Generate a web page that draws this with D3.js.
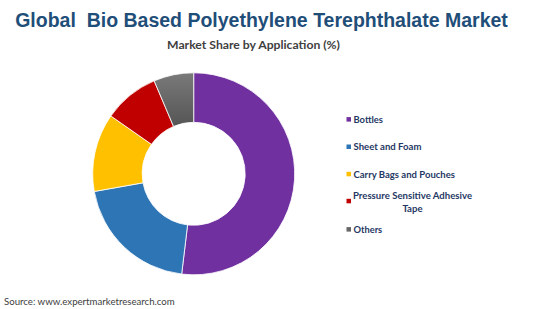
<!DOCTYPE html>
<html><head><meta charset="utf-8">
<script src="https://cdn.jsdelivr.net/npm/d3@7/dist/d3.min.js"></script>
<style>body{margin:0;background:#fff}svg{display:block}text{white-space:pre}</style>
</head><body>
<script>
const categories = ["Bottles", "Sheet and Foam", "Carry Bags and Pouches", "Pressure Sensitive Adhesive Tape", "Others"];
const values = [51.9, 20.3, 12.5, 8.9, 6.4];
const colors = ["#7030A0", "#2E75B6", "#FFC000", "#C00000", "#666666"];
const legendLines = [["Bottles"], ["Sheet and Foam"], ["Carry Bags and Pouches"], ["Pressure Sensitive Adhesive", "Tape"], ["Others"]];

const W = 550, H = 309;
const svg = d3.select("body").append("svg").attr("width", W).attr("height", H);

const defs = svg.append("defs");
const g1 = defs.append("linearGradient").attr("id", "grey").attr("x1", 0).attr("y1", 0).attr("x2", 0).attr("y2", 1);
g1.append("stop").attr("offset", "0").attr("stop-color", "#7a7a7a");
g1.append("stop").attr("offset", "1").attr("stop-color", "#555555");

function fit(sel, target) {
  const w = sel.node().getComputedTextLength();
  const fs = parseFloat(sel.attr("font-size"));
  sel.attr("font-size", fs * target / w);
}

const title = svg.append("text").attr("x", 261.5).attr("y", 27).attr("text-anchor", "middle")
  .attr("font-family", "Liberation Sans, Arial, sans-serif").attr("font-weight", "bold")
  .attr("font-size", 19).attr("fill", "#1F4E79")
  .text("Global  Bio Based Polyethylene Terephthalate Market");
fit(title, 493);

const sub = svg.append("text").attr("x", 253.5).attr("y", 49).attr("text-anchor", "middle")
  .attr("font-family", "Lato, Open Sans, sans-serif").attr("font-weight", "bold")
  .attr("font-size", 12).attr("fill", "#404040")
  .text("Market Share by Application (%)");
fit(sub, 173);

const cx = 193.7, cy = 173.8, R = 101, r = 51.5;
const pie = d3.pie().sort(null).value(d => d)(values);
const arc = d3.arc().innerRadius(r).outerRadius(R);
const gp = svg.append("g").attr("transform", `translate(${cx},${cy})`);
gp.selectAll("path").data(pie).join("path")
  .attr("d", arc)
  .attr("fill", (d, i) => i === 4 ? "url(#grey)" : colors[i])
  .attr("stroke", "#fff").attr("stroke-width", 0.8);

const legY = [119.3, 146.7, 174, 201, 229.3];
const legW = [29.4, 68, 101.5, 119, 28.7];
const lg = svg.append("g");
legendLines.forEach((lines, i) => {
  lg.append("rect").attr("x", 346.5).attr("y", legY[i] - 2.2).attr("width", 4.5).attr("height", 4.5).attr("fill", colors[i]);
  if (lines.length === 1) {
    const t = lg.append("text").attr("x", 353.5).attr("y", legY[i] + 3.6)
      .attr("font-family", "Lato, Open Sans, sans-serif").attr("font-weight", "bold")
      .attr("font-size", 10.2).attr("fill", "#1F3864").text(lines[0]);
    fit(t, legW[i]);
  } else {
    const t = lg.append("text").attr("x", 412.5).attr("y", legY[i] - 5.2 + 3.6).attr("text-anchor", "middle")
      .attr("font-family", "Lato, Open Sans, sans-serif").attr("font-weight", "bold")
      .attr("font-size", 10.2).attr("fill", "#1F3864").text(lines[0]);
    fit(t, legW[i]);
    lg.append("text").attr("x", 412.5).attr("y", legY[i] + 7.3 + 3.6).attr("text-anchor", "middle")
      .attr("font-family", "Lato, Open Sans, sans-serif").attr("font-weight", "bold")
      .attr("font-size", t.attr("font-size")).attr("fill", "#1F3864").text(lines[1]);
  }
});

const src = svg.append("text").attr("x", 4).attr("y", 304.5)
  .attr("font-family", "Lato, Open Sans, sans-serif")
  .attr("font-size", 10.5).attr("fill", "#404040")
  .text("Source: www.expertmarketresearch.com");
fit(src, 171);
</script>
</body></html>
